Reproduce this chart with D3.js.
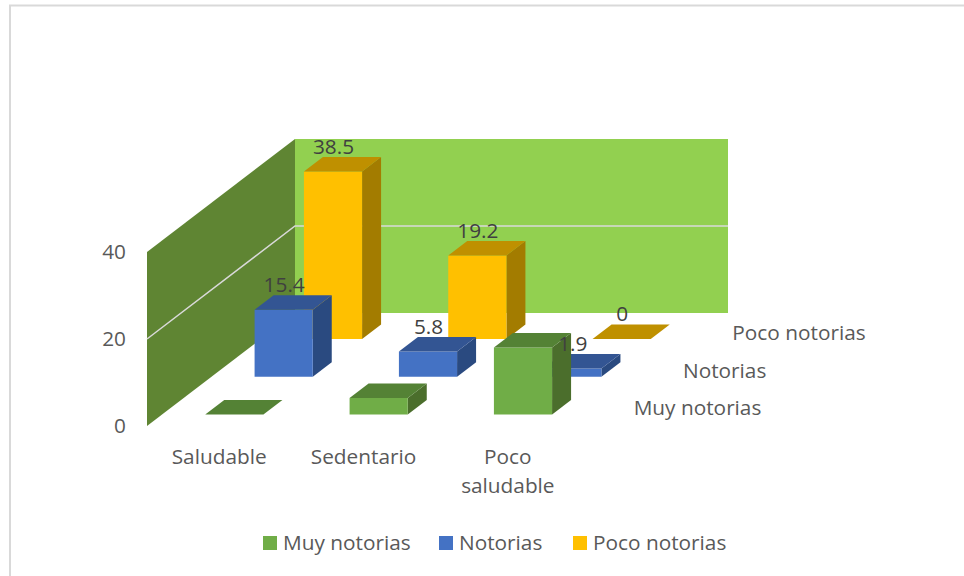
<!DOCTYPE html>
<html><head><meta charset="utf-8">
<script src="https://cdn.jsdelivr.net/npm/d3@7/dist/d3.min.js"></script>
<style>html,body{margin:0;padding:0;background:#fff}svg{display:block}text{font-family:"Open Sans",sans-serif}</style>
</head><body><svg id="c" width="964" height="576"></svg>
<script>
const categories = [["Saludable"],["Sedentario"],["Poco","saludable"]];
const categoryKeys = ["Saludable","Sedentario","Poco saludable"];
const seriesNames = ["Muy notorias","Notorias","Poco notorias"];
const muyNotorias = [0,3.8,15.4];
const notorias = [15.4,5.8,1.9];
const pocoNotorias = [38.5,19.2,0];
const yTicks = [0,20,40];
const seriesValues = [muyNotorias,notorias,pocoNotorias];
const showLabels = [false,true,true];
const faces = [
 {front:"#70ad47",top:"#548235",side:"#4b6e2c"},
 {front:"#4472c4",top:"#335593",side:"#2a4a80"},
 {front:"#ffc000",top:"#bf9000",side:"#a37c00"}];
const fontSize = 20.8;

const svg = d3.select("#c");
const y = d3.scaleLinear().domain([0,40]).range([426,252]);
const x = d3.scaleBand().domain(categoryKeys).range([147,580]).paddingInner(.597).paddingOuter(.2985);
const z = d3.scaleBand().domain(seriesNames).range([0,1]).paddingInner(.615).paddingOuter(.3075);
const zx = d3.scaleLinear().domain([0,1]).range([0,148]);
const zy = d3.scaleLinear().domain([0,1]).range([0,-113]);
const P = (px,d,v)=>[px+zx(d), y(v)+zy(d)];
const poly = (g,pts,fill)=>g.append("polygon").attr("points",pts.map(p=>p.join(",")).join(" ")).attr("fill",fill);

// outer frame
svg.append("path").attr("d","M10,576V5.5H964").attr("fill","none").attr("stroke","#d9d9d9").attr("stroke-width",2);

// walls
const walls = svg.append("g");
const x0=x.range()[0], x1=x.range()[1], vT=yTicks[yTicks.length-1];
poly(walls,[P(x0,0,0),P(x0,1,0),P(x0,1,vT),P(x0,0,vT)],"#5f8533");
poly(walls,[P(x0,1,0),P(x1,1,0),P(x1,1,vT),P(x0,1,vT)],"#92d050");
yTicks.filter(t=>t>0 && t<vT).forEach(t=>{
  const pts=[P(x0,0,t),P(x0,1,t),P(x1,1,t)];
  walls.append("polyline").attr("points",pts.map(p=>p.join(",")).join(" ")).attr("fill","none").attr("stroke","#d9d9d9").attr("stroke-width",1.5);
});

// bars, back series first
const bars = svg.append("g");
[2,1,0].forEach(si=>{
  const name=seriesNames[si], f=faces[si], d0=z(name), d1=d0+z.bandwidth();
  categoryKeys.forEach((c,ci)=>{
    const v=seriesValues[si][ci], xl=x(c), xr=xl+x.bandwidth(), g=bars.append("g");
    if(v>0){
      poly(g,[P(xr,d0,0),P(xr,d1,0),P(xr,d1,v),P(xr,d0,v)],f.side);
      poly(g,[P(xl,d0,0),P(xr,d0,0),P(xr,d0,v),P(xl,d0,v)],f.front);
    }
    poly(g,[P(xl,d0,v),P(xr,d0,v),P(xr,d1,v),P(xl,d1,v)],f.top);
  });
});

// data labels
const labels = svg.append("g").attr("font-size",fontSize).attr("fill","#404040").attr("text-anchor","middle");
seriesNames.forEach((name,si)=>{
  if(!showLabels[si]) return;
  categoryKeys.forEach((c,ci)=>{
    const v=seriesValues[si][ci];
    const p=P(x(c)+x.bandwidth()/2, z(name)+z.bandwidth()/2, v);
    labels.append("text").attr("x",p[0]-9).attr("y",p[1]-18).attr("dy","0.35em").text(v);
  });
});

// value axis
const ax = svg.append("g").attr("transform","translate(147,0)")
  .call(d3.axisLeft(y).tickValues(yTicks).tickSize(0).tickPadding(21));
ax.select(".domain").remove();
ax.selectAll("text").attr("font-size",fontSize).attr("fill","#595959").style("font-family",'"Open Sans",sans-serif');

// category labels
const catG = svg.append("g").attr("font-size",fontSize).attr("fill","#595959").attr("text-anchor","middle");
categoryKeys.forEach((c,i)=>{
  const cx=x(c)+x.bandwidth()/2;
  categories[i].forEach((l,j)=>catG.append("text").attr("x",cx).attr("y",457+j*29).attr("dy","0.35em").text(l));
});

// series axis labels
const serG = svg.append("g").attr("font-size",fontSize).attr("fill","#595959");
seriesNames.forEach(n=>{
  const d=z(n)+z.bandwidth()/2;
  const p=P(x1,d,0);
  serG.append("text").attr("x",p[0]+29).attr("y",p[1]+1).attr("dy","0.35em").text(n);
});

// legend
const legendX=[263,439,573];
const leg=svg.append("g").attr("font-size",fontSize).attr("fill","#595959");
seriesNames.forEach((n,i)=>{
  leg.append("rect").attr("x",legendX[i]).attr("y",536).attr("width",14).attr("height",14).attr("fill",faces[i].front);
  leg.append("text").attr("x",legendX[i]+20).attr("y",543).attr("dy","0.35em").text(n);
});
</script></body></html>
